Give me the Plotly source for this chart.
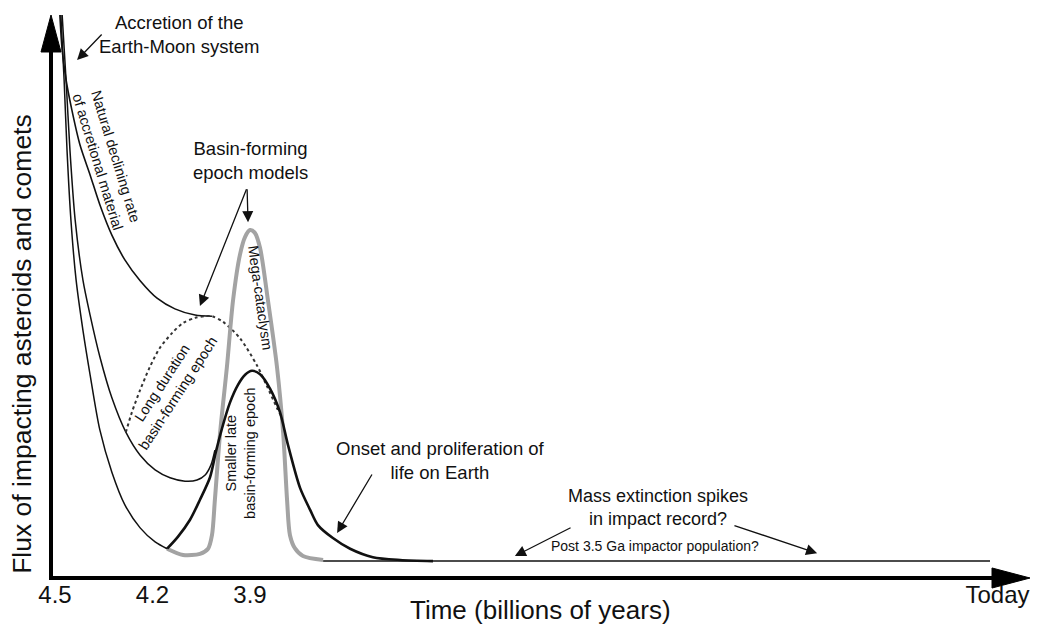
import plotly.graph_objects as go

# ---------------- data (time in Ga, flux in arbitrary units 0-100) ----------------
natural_t = [4.485, 4.478, 4.466, 4.448, 4.423, 4.392, 4.362, 4.325, 4.285, 4.238, 4.186, 4.131, 4.069, 4.017]
natural_f = [100.0, 93.8, 88.5, 83.1, 76.9, 71.6, 66.3, 60.9, 56.5, 52.8, 49.7, 47.8, 46.7, 46.5]

long_t = [4.282, 4.263, 4.238, 4.208, 4.177, 4.140, 4.106, 4.069, 4.038, 4.017, 3.983, 3.931, 3.878, 3.848, 3.817, 3.798]
long_f = [25.9, 29.5, 33.4, 37.5, 40.9, 43.5, 45.3, 46.2, 46.5, 46.5, 45.5, 42.6, 37.7, 34.1, 30.2, 28.1]

middle_t = [4.478, 4.466, 4.454, 4.438, 4.414, 4.392, 4.362, 4.325, 4.282, 4.238, 4.192, 4.146, 4.100, 4.063, 4.038, 4.020, 4.008]
middle_f = [100.0, 88.5, 76.0, 63.6, 52.9, 46.7, 39.3, 32.0, 25.9, 21.8, 19.2, 17.8, 17.2, 17.4, 18.3, 20.1, 22.7]

inner_t = [4.482, 4.472, 4.463, 4.451, 4.435, 4.414, 4.392, 4.362, 4.325, 4.285, 4.238, 4.192, 4.155]
inner_f = [100.0, 88.5, 76.0, 63.6, 52.9, 44.0, 36.1, 26.3, 18.8, 13.0, 8.9, 6.4, 5.2]

smaller_t = [4.155, 4.122, 4.085, 4.054, 4.023, 4.005, 3.986, 3.962, 3.937, 3.915, 3.894, 3.869, 3.838,
             3.808, 3.783, 3.746, 3.715, 3.691, 3.645, 3.592, 3.522, 3.438, 3.337]
smaller_f = [5.2, 7.3, 10.3, 13.9, 17.9, 22.4, 26.6, 31.1, 34.3, 36.1, 36.8, 36.2, 33.6,
             29.5, 23.6, 16.0, 12.1, 9.4, 7.1, 5.2, 3.7, 3.2, 3.0]

mega_t = [4.155, 4.106, 4.054, 4.029, 4.017, 4.008, 3.992, 3.971, 3.952, 3.931, 3.915, 3.900, 3.885,
          3.869, 3.845, 3.817, 3.798, 3.786, 3.777, 3.762, 3.737, 3.675]
mega_f = [5.2, 4.1, 4.3, 5.2, 7.6, 13.9, 25.8, 37.5, 49.4, 57.4, 60.6, 61.8, 61.3,
          58.6, 49.4, 37.5, 25.8, 13.9, 7.6, 5.3, 3.9, 3.2]

base_t = [3.675, 1.623]
base_f = [3.0, 3.0]

tick_vals = [4.5, 4.2, 3.9, 1.6]
tick_text = ["4.5", "4.2", "3.9", "Today"]

FONT = "Liberation Sans, Arial, sans-serif"
INK = "#111111"

fig = go.Figure()

def add_line(x, y, color, width, dash="solid"):
    fig.add_trace(go.Scatter(x=x, y=y, mode="lines",
                             line=dict(color=color, width=width, dash=dash, shape="spline", smoothing=0.8),
                             hoverinfo="skip", showlegend=False))

add_line(inner_t, inner_f, INK, 1.5)
add_line(middle_t, middle_f, INK, 1.5)
add_line(natural_t, natural_f, INK, 1.6)
add_line(long_t, long_f, "#333333", 2.0, "dot")
add_line(base_t, base_f, INK, 1.5)
add_line(mega_t, mega_f, "#a3a3a3", 4.0)
add_line(smaller_t, smaller_f, INK, 2.6)

annotations = []

def text(x, y, s, size=18.5, angle=0, xref="x", yref="y"):
    annotations.append(dict(x=x, y=y, xref=xref, yref=yref, text=s, showarrow=False,
                            textangle=angle, font=dict(family=FONT, size=size, color=INK),
                            xanchor="center", yanchor="middle", align="center"))

def arrow(tail, tip):
    annotations.append(dict(x=tip[0], y=tip[1], ax=tail[0], ay=tail[1], xref="x", yref="y",
                            axref="x", ayref="y", text="", showarrow=True, arrowhead=2,
                            arrowsize=1.7, arrowwidth=1.3, arrowcolor=INK, standoff=0))

text(4.118, 96.6, "Accretion of the<br>Earth-Moon system")
arrow((4.352, 96.8), (4.432, 92.0))

text(4.340, 74.4, "Natural declining rate<br>of accretional material", 14.5, 73)

text(3.900, 74.2, "Basin-forming<br>epoch models")
arrow((3.909, 69.3), (4.054, 48.3))
arrow((3.909, 69.3), (3.906, 63.2))

text(3.869, 49.7, "Mega-cataclysm", 14.5, 82)
text(4.146, 33.6, "Long duration<br>basin-forming epoch", 14.5, -57)
text(3.931, 22.2, "Smaller late<br>basin-forming epoch", 14.5, -90)

text(3.315, 20.8, "Onset and proliferation of<br>life on Earth")
arrow((3.522, 18.65), (3.632, 8.0))

text(2.645, 12.6, "Mass extinction spikes<br>in impact record?", 18)
arrow((2.909, 9.06), (3.085, 3.9))
arrow((2.414, 9.4), (2.155, 4.4))

text(2.654, 5.7, "Post 3.5 Ga impactor population?", 14)

text(0.5005, -0.056, "Time (billions of years)", 26, 0, "paper", "paper")
text(-0.0296, 0.416, "Flux of impacting asteroids and comets", 26.5, -90, "paper", "paper")

shapes = [
    dict(type="line", xref="paper", yref="paper", x0=0, x1=0, y0=-0.0036, y1=0.94,
         line=dict(color="black", width=4)),
    dict(type="path", xref="paper", yref="paper", path="M 0 1 L -0.0102 0.9343 L 0.0102 0.9343 Z",
         fillcolor="black", line=dict(color="black", width=1)),
    dict(type="line", xref="paper", yref="paper", x0=-0.002, x1=0.964, y0=0, y1=0,
         line=dict(color="black", width=4)),
    dict(type="path", xref="paper", yref="paper", path="M 1 0 L 0.9612 0.0178 L 0.9612 -0.0178 Z",
         fillcolor="black", line=dict(color="black", width=1)),
]

fig.update_layout(
    width=1037, height=630,
    margin=dict(l=51, r=7, t=15, b=52, autoexpand=False),
    paper_bgcolor="white", plot_bgcolor="white",
    font=dict(family=FONT, color=INK),
    annotations=annotations, shapes=shapes,
    xaxis=dict(range=[4.5123, 1.5], showgrid=False, zeroline=False, showline=False, ticks="",
               automargin=False, tickvals=tick_vals, ticktext=tick_text,
               tickfont=dict(family=FONT, size=24, color=INK)),
    yaxis=dict(range=[0, 100], showgrid=False, zeroline=False, showline=False, ticks="",
               automargin=False, showticklabels=False),
)

fig.write_html("out.html", config={"displayModeBar": False},
               post_script="document.body.style.margin='0';document.body.style.overflow='hidden';")
